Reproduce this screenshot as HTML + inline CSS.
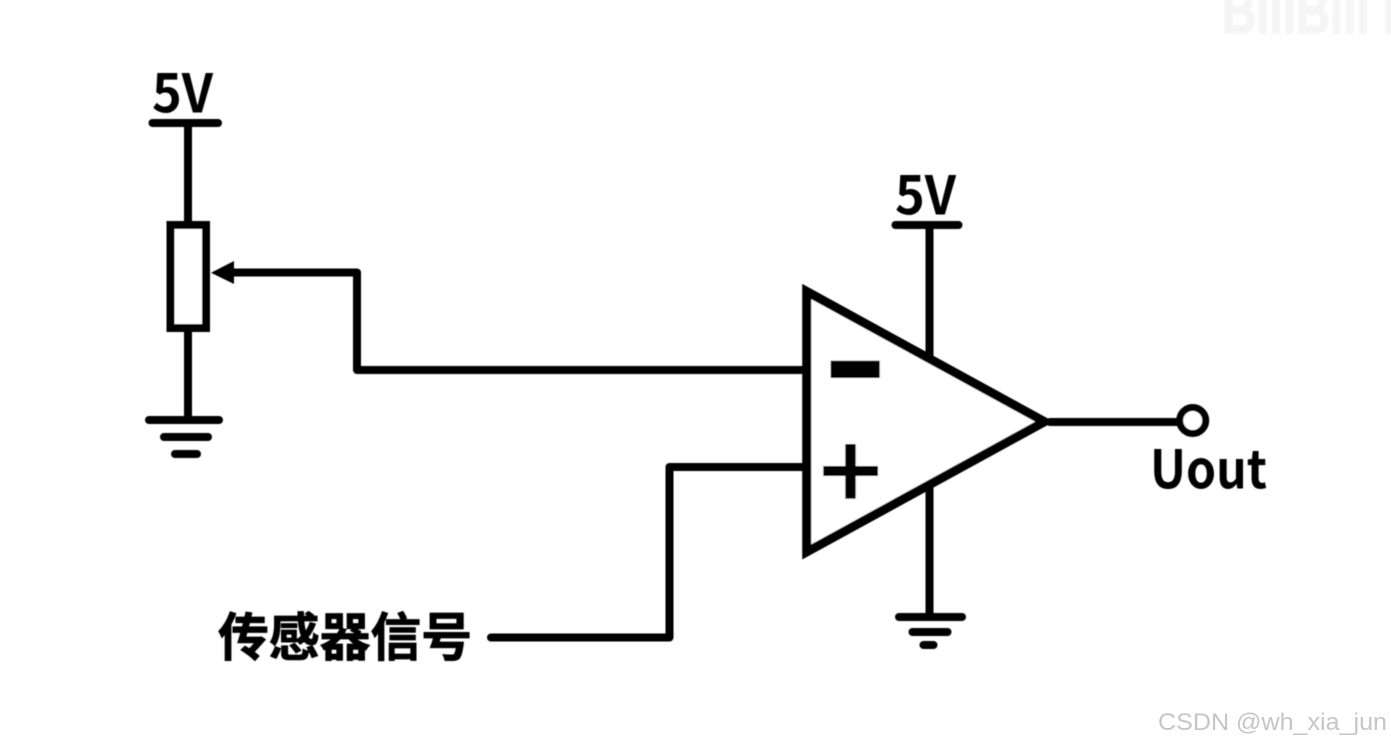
<!DOCTYPE html>
<html lang="zh">
<head>
<meta charset="utf-8">
<title>Op-amp comparator</title>
<style>
html,body{margin:0;padding:0;background:#fff;width:1391px;height:744px;overflow:hidden}
svg{display:block}
</style>
</head>
<body>
<svg width="1391" height="744" viewBox="0 0 1391 744" xmlns="http://www.w3.org/2000/svg">
<defs>
<filter id="soft" x="-5%" y="-5%" width="110%" height="110%"><feGaussianBlur stdDeviation="0.6"/></filter>
<filter id="wm" x="-5%" y="-20%" width="110%" height="140%"><feGaussianBlur stdDeviation="0.8"/></filter>
</defs>
<rect width="1391" height="744" fill="#fff"/>
<text x="1222" y="33" font-family="'Liberation Sans',sans-serif" font-weight="700" font-size="64" fill="#f5f5f5" stroke="#f5f5f5" stroke-width="1.500" textLength="195" lengthAdjust="spacingAndGlyphs" filter="url(#wm)">BiliBili B</text>
<g filter="url(#soft)">
<g fill="none" stroke="#000" stroke-width="8" stroke-linecap="round" stroke-linejoin="round">
<path d="M152.500 123H218"/>
<path d="M188 123V222"/>
<path d="M188 331V420"/>
<path d="M149 420H219"/>
<path d="M164 437H208"/>
<path d="M175 454H197"/>
<path d="M232 272.500H357V370H806"/>
<path d="M491 637.500H669.500V467H806"/>
<path d="M895.500 225H958.500"/>
<path d="M929.500 225V355"/>
<path d="M929.500 488V617"/>
<path d="M899 617H962"/>
<path d="M912.500 632H947.500"/>
<path d="M923.500 645H933.500"/>
<path d="M1050 422H1181"/>
</g>
<rect x="170.500" y="225" width="35.500" height="103" fill="#fff" stroke="#000" stroke-width="8"/>
<polygon points="211,272.700 234,261 234,284" fill="#000"/>
<polygon points="806.700,291.500 1044.500,421.700 806.700,551.900" fill="#fff" stroke="#000" stroke-width="9" stroke-linejoin="miter" stroke-miterlimit="10"/>
<rect x="830.700" y="360.700" width="49" height="17.300" fill="#000"/>
<rect x="823.300" y="466" width="54.700" height="10" fill="#000"/>
<rect x="845.300" y="444" width="10.400" height="54.700" fill="#000"/>
<circle cx="1192.700" cy="420.500" r="13" fill="#fff" stroke="#000" stroke-width="7"/>
<g font-family="'Noto Sans CJK SC','Liberation Sans',sans-serif" font-weight="700" font-size="53" fill="#000">
<text x="152" y="112.500" textLength="61" lengthAdjust="spacingAndGlyphs">5V</text>
<text x="895" y="214.500" textLength="61" lengthAdjust="spacingAndGlyphs">5V</text>
<text x="1150" y="488.500" textLength="117" lengthAdjust="spacingAndGlyphs">Uout</text>
</g>
<text x="218" y="656" font-family="'Liberation Sans','Noto Sans CJK SC',sans-serif" font-weight="700" font-size="52" fill="#000" stroke="#000" stroke-width="0.800" textLength="254" lengthAdjust="spacingAndGlyphs">传感器信号</text>
</g>
<text x="1158" y="730" font-family="'Liberation Sans',sans-serif" font-size="24" fill="#c6c6c6" textLength="229" lengthAdjust="spacingAndGlyphs">CSDN @wh_xia_jun</text>
</svg>
</body>
</html>
